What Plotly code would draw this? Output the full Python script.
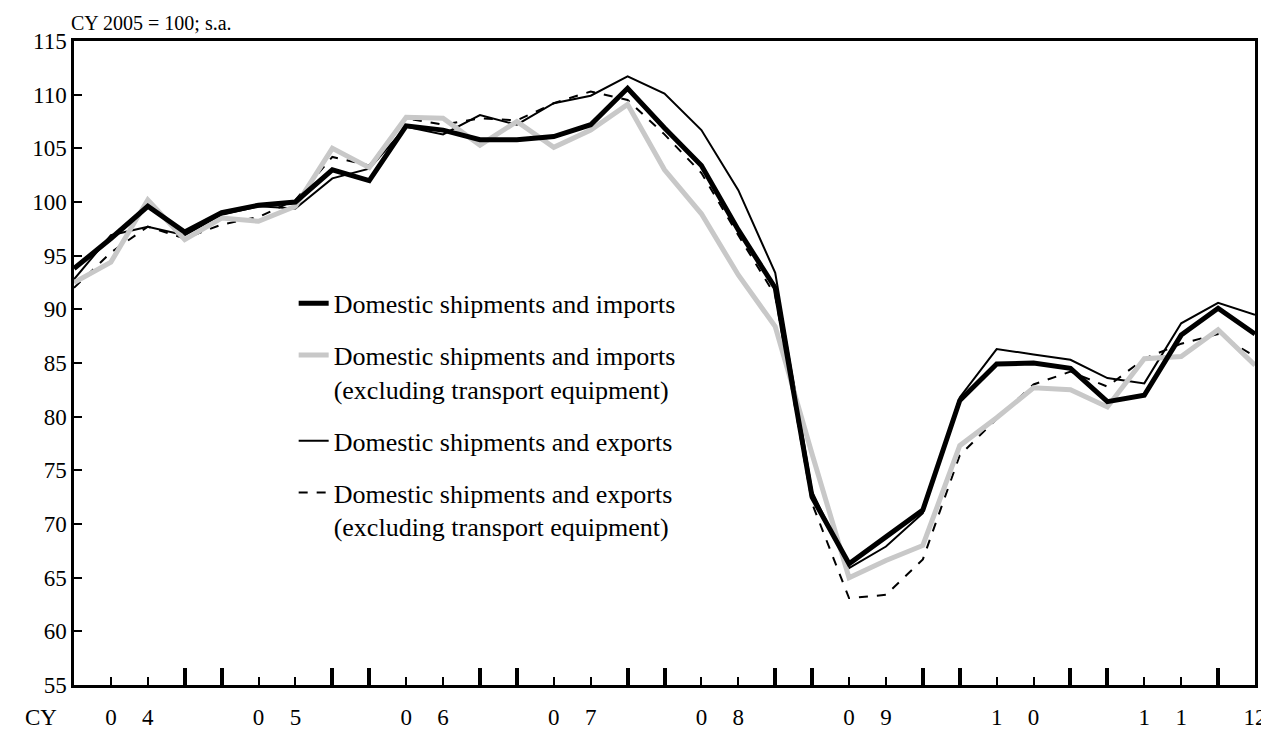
import plotly.graph_objects as go

# quarterly, 2004 Q1 .. 2012 Q1
quarters = list(range(33))

dom_imports = [93.8, 96.6, 99.6, 97.2, 99.0, 99.7, 100.0, 103.0, 102.0, 107.1, 106.7,
               105.8, 105.8, 106.1, 107.2, 110.6, 106.9, 103.4, 97.4, 92.0, 72.5, 66.3,
               68.8, 71.3, 81.5, 84.9, 85.0, 84.5, 81.4, 82.0, 87.6, 90.1, 87.7]
dom_imports_ex = [92.5, 94.4, 100.2, 96.5, 98.5, 98.2, 99.6, 105.0, 103.2, 107.9, 107.8,
                  105.3, 107.5, 105.1, 106.7, 109.1, 103.0, 98.9, 93.2, 88.4, 76.5, 65.0,
                  66.6, 68.0, 77.3, 79.9, 82.7, 82.5, 80.9, 85.4, 85.6, 88.1, 84.8]
dom_exports = [92.8, 96.9, 97.7, 96.9, 98.8, 99.6, 99.4, 102.2, 103.1, 107.0, 106.3,
               108.1, 107.2, 109.2, 109.9, 111.7, 110.1, 106.7, 101.1, 93.4, 73.0, 65.9,
               67.9, 71.0, 81.8, 86.3, 85.8, 85.3, 83.6, 83.1, 88.7, 90.6, 89.5]
dom_exports_ex = [92.0, 95.3, 97.7, 96.6, 97.9, 98.6, 100.2, 104.2, 103.4, 107.8, 107.2,
                  107.8, 107.6, 109.2, 110.3, 109.5, 106.3, 102.7, 96.9, 91.3, 71.9, 63.1,
                  63.4, 66.7, 76.4, 79.8, 83.0, 84.2, 82.8, 85.4, 86.8, 87.7, 85.6]

# tick layout: long marks at Q1/Q4, short at Q2/Q3, year digits under Q2/Q3
major_ticks = [q for q in quarters if q % 4 in (0, 3)]
minor_ticks = [q for q in quarters if q % 4 in (1, 2)]
year_digits = ["0 4", "0 5", "0 6", "0 7", "0 8", "0 9", "1 0", "1 1"]
label_pos, label_txt = [], []
for k, yy in enumerate(year_digits):
    d1, d2 = yy.split()
    label_pos += [4 * k + 1, 4 * k + 2]
    label_txt += [d1, d2]
label_pos.append(32)
label_txt.append("12")

FONT = "Liberation Serif, Times New Roman, serif"

series = [
    ("Domestic shipments and imports", dom_imports, dict(color="black", width=5)),
    ("Domestic shipments and imports<br>(excluding transport equipment)", dom_imports_ex,
     dict(color="#c8c8c8", width=5)),
    ("Domestic shipments and exports", dom_exports, dict(color="black", width=2)),
    ("Domestic shipments and exports<br>(excluding transport equipment)", dom_exports_ex,
     dict(color="black", width=2, dash="dash")),
]
draw_order = [2, 3, 1, 0]

fig = go.Figure()
for idx in draw_order:
    name, vals, line = series[idx]
    fig.add_trace(go.Scatter(x=quarters, y=vals, mode="lines", name=name, line=line,
                             legendgroup=str(idx), legendrank=idx + 1))

# invisible trace to carry the year labels axis
fig.add_trace(go.Scatter(x=[0, 32], y=[55, 55], xaxis="x2", mode="lines",
                         line=dict(width=0), showlegend=False, hoverinfo="skip"))

# page body has an 8px margin, figure starts at (8, 8)
fig.update_layout(
    width=1261, height=723,
    paper_bgcolor="white", plot_bgcolor="white",
    margin=dict(l=66, r=14, t=33, b=46),
    font=dict(family=FONT, size=23, color="black"),
    showlegend=True,
    legend=dict(x=0.186, y=0.629, xanchor="left", yanchor="top",
                traceorder="grouped", tracegroupgap=15, valign="top",
                font=dict(size=26), bgcolor="rgba(0,0,0,0)"),
    xaxis=dict(range=[0, 32], showline=True, linecolor="black", linewidth=2.5, mirror=True,
               ticks="inside", tickmode="array", tickvals=major_ticks, ticklen=17,
               tickwidth=4, tickcolor="black", showticklabels=False, showgrid=False,
               zeroline=False, automargin=False,
               minor=dict(tickmode="array", tickvals=minor_ticks, ticks="inside",
                          ticklen=8, tickwidth=2, tickcolor="black", showgrid=False)),
    xaxis2=dict(range=[0, 32], overlaying="x", side="bottom", anchor="y",
                tickmode="array", tickvals=label_pos, ticktext=label_txt, ticks="",
                showline=False, showgrid=False, zeroline=False, ticklabelstandoff=16,
                tickfont=dict(size=23), automargin=False),
    yaxis=dict(range=[55, 115], dtick=5, tick0=55, showline=True, linecolor="black",
               linewidth=2.5, mirror=True, ticks="inside", ticklen=8, tickwidth=2,
               tickcolor="black", showgrid=False, zeroline=False, automargin=False,
               tickfont=dict(size=23)),
)

fig.add_annotation(text="CY 2005 = 100; s.a.", xref="paper", yref="paper", x=0, y=1,
                   xanchor="left", yanchor="bottom", xshift=-5, yshift=5, showarrow=False,
                   font=dict(size=20))
fig.add_annotation(text="CY", xref="paper", yref="paper", x=0, y=0, xanchor="right",
                   yanchor="middle", xshift=-15, yshift=-32, showarrow=False,
                   font=dict(size=23))

fig.write_html("out.html")
